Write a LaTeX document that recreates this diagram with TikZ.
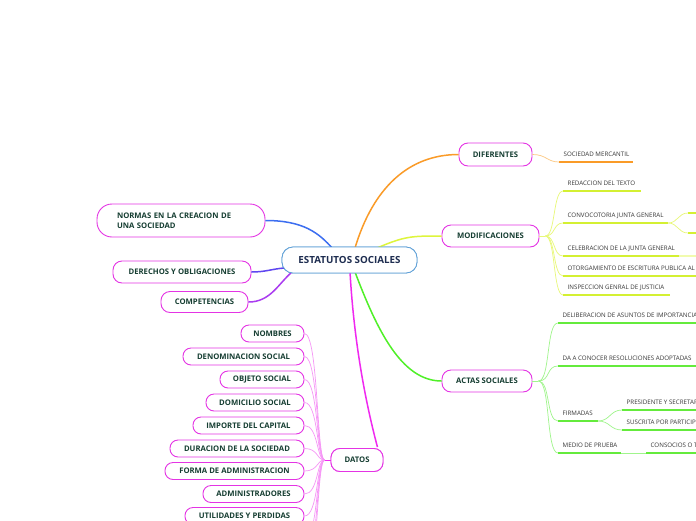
\documentclass[tikz,border=0pt]{standalone}
\usepackage{fontspec}
\setmainfont{Open Sans}
\usetikzlibrary{calc}
\definecolor{mag}{RGB}{228,52,228}
\definecolor{cblue}{RGB}{95,160,215}
\definecolor{dkg}{RGB}{22,62,50}
\definecolor{navy}{RGB}{30,45,80}
\definecolor{leaftxt}{RGB}{55,55,55}
\definecolor{cNorm}{RGB}{60,110,240}
\definecolor{cDer}{RGB}{95,70,240}
\definecolor{cComp}{RGB}{170,60,240}
\definecolor{cOra}{RGB}{250,155,40}
\definecolor{cOraL}{RGB}{252,200,130}
\definecolor{cYel}{RGB}{222,245,60}
\definecolor{cYelU}{RGB}{212,240,50}
\definecolor{cYelL}{RGB}{232,248,120}
\definecolor{cGrn}{RGB}{80,240,40}
\definecolor{cGrnU}{RGB}{100,235,60}
\definecolor{cGrnL}{RGB}{160,245,140}
\definecolor{cMag}{RGB}{240,40,240}
\definecolor{cMagL}{RGB}{246,150,246}
\tikzset{
  cnode/.style={draw=cblue, line width=0.8pt, rounded corners=11pt, fill=white, inner sep=0pt,
    font=\fontsize{9.8}{11}\selectfont\bfseries, text=navy},
  mnode/.style={draw=mag, line width=0.9pt, rounded corners=9pt, fill=white, inner sep=0pt,
    font=\fontsize{7.7}{10.5}\selectfont\bfseries, text=dkg},
  dnode/.style={mnode, minimum height=17pt, rounded corners=8pt},
  leaftext/.style={font=\fontsize{6.2}{7}\selectfont, text=leaftxt, inner sep=0pt, anchor=base west},
  maincon/.style={line width=1.5pt},
  subcon/.style={line width=0.7pt},
  uline/.style={line width=2pt},
}
\newcommand{\leafitem}[6]{%
  \coordinate (#1) at (#2,#3);
  \coordinate (#1e) at (#2+#4,#3);
  \draw[uline, #6] (#1) -- (#1e);
  \node[leaftext] (#1t) at (#2+4.5,#3-5.5) {#5};
}
\begin{document}
\begin{tikzpicture}[x=1pt,y=-1pt]
\useasboundingbox (0,0) rectangle (696,520);
\clip (0,0) rectangle (696,520);
\fill[white] (0,0) rectangle (696,520);

\coordinate (cN) at (333,249);
\coordinate (cO) at (355,248);
\coordinate (cY) at (377,248);
\coordinate (cG) at (355,272);
\coordinate (cM) at (350,272);
\coordinate (cD) at (284,268);
\coordinate (cC) at (292,272);

% ---------- nodes
\node[cnode, minimum width=135pt, minimum height=26pt] (cen) at (349.5,260) {ESTATUTOS SOCIALES};

\node[mnode, minimum height=33pt, rounded corners=15pt, align=left, text width=128pt, inner xsep=20pt] (normas) at (181,220.5) {NORMAS EN LA CREACION DE\\UNA SOCIEDAD};
\node[mnode, minimum width=138pt, minimum height=22pt] (derechos) at (182,272) {DERECHOS Y OBLIGACIONES};
\node[mnode, minimum width=87pt, minimum height=21pt] (compet) at (204.5,302) {COMPETENCIAS};
\node[mnode, minimum width=73pt, minimum height=23pt] (dif) at (495.5,154.5) {DIFERENTES};
\node[mnode, minimum width=97pt, minimum height=22pt] (modif) at (490.5,236) {MODIFICACIONES};
\node[mnode, minimum width=90pt, minimum height=22pt] (actas) at (487,381) {ACTAS SOCIALES};
\node[mnode, minimum width=52pt, minimum height=23pt] (datos) at (357,460) {DATOS};

\node[dnode, minimum width=63pt] (nombres) at (272.5,333.5) {NOMBRES};
\node[dnode, minimum width=121pt] (denom) at (243.5,356.5) {DENOMINACION SOCIAL};
\node[dnode, minimum width=84pt] (objeto) at (262,379.5) {OBJETO SOCIAL};
\node[dnode, minimum width=98pt] (domic) at (255,402.5) {DOMICILIO SOCIAL};
\node[dnode, minimum width=111pt] (importe) at (248.5,425.5) {IMPORTE DEL CAPITAL};
\node[dnode, minimum width=134pt] (durac) at (237,448.5) {DURACION DE LA SOCIEDAD};
\node[dnode, minimum width=139pt] (forma) at (234.5,471) {FORMA DE ADMINISTRACION};
\node[dnode, minimum width=101pt] (admin) at (253.5,494) {ADMINISTRADORES};
\node[dnode, minimum width=119pt] (utilid) at (244.5,516) {UTILIDADES Y PERDIDAS};

% ---------- main connectors
\draw[maincon, cNorm] (normas.east) .. controls +(38,0) and +(-14,-16) .. (cN);
\draw[maincon, cDer] (derechos.east) .. controls +(14,0) and +(-12,1) .. (cD);
\draw[maincon, cComp] (compet.east) .. controls +(22,0) and +(-14,12) .. (cC);
\draw[maincon, cOra] (cO) .. controls +(18,-60) and +(-50,0) .. (dif.west);
\draw[maincon, cYel] (cY) .. controls +(28,-12) and +(-30,0) .. (modif.west);
\draw[maincon, cGrn] (cG) .. controls +(22,58) and +(-40,0) .. (actas.west);
\draw[maincon, cMag] (cM) .. controls +(4,70) and +(-12,-45) .. ($(datos.north east)+(-6,-1)$);
% redraw nodes over connector ends
\node[cnode, minimum width=135pt, minimum height=26pt] at (cen) {ESTATUTOS SOCIALES};
\node[mnode, minimum width=52pt, minimum height=23pt] at (datos) {DATOS};

% ---------- DIFERENTES leaves
\leafitem{sm}{559}{162}{74}{SOCIEDAD MERCANTIL}{cOra}
\draw[subcon, cOraL] (dif.east) .. controls +(14,0) and +(-12,0) .. (sm);

% ---------- MODIFICACIONES leaves
\coordinate (mj) at ($(modif.east)+(6,0)$);
\draw[subcon, cYelL] (modif.east) -- (mj);
\leafitem{red}{563}{191}{78}{REDACCION DEL TEXTO}{cYelU}
\leafitem{conv}{563}{223}{105}{CONVOCOTORIA JUNTA GENERAL}{cYelU}
\leafitem{celeb}{563}{256}{116}{CELEBRACION DE LA JUNTA GENERAL}{cYelU}
\leafitem{otorg}{563}{276}{140}{OTORGAMIENTO DE ESCRITURA PUBLICA AL}{cYelU}
\leafitem{insp}{563}{295}{107}{INSPECCION GENRAL DE JUSTICIA}{cYelU}
\foreach \n in {red,conv,celeb,otorg,insp}{
  \draw[subcon, cYelL] (mj) .. controls +(10,0) and +(-10,0) .. (\n);
}
\coordinate (cb1) at (688,213);
\coordinate (cb2) at (688,233);
\draw[subcon, cYelL] (conve) .. controls +(10,0) and +(-10,0) .. (cb1);
\draw[subcon, cYelL] (conve) .. controls +(10,0) and +(-10,0) .. (cb2);
\draw[uline, cYelU] (cb1) -- ++(20,0);
\draw[uline, cYelU] (cb2) -- ++(20,0);
\draw[uline, cYelL!60] (celebe) -- ++(25,0);

% ---------- ACTAS leaves
\coordinate (aj) at ($(actas.east)+(6,0)$);
\draw[subcon, cGrnL] (actas.east) -- (aj);
\leafitem{delib}{558}{323}{145}{DELIBERACION DE ASUNTOS DE IMPORTANCIA}{cGrnU}
\leafitem{daa}{558}{366}{145}{DA A CONOCER RESOLUCIONES ADOPTADAS}{cGrnU}
\leafitem{firm}{558}{421}{40}{FIRMADAS}{cGrnU}
\leafitem{medio}{558}{453}{63}{MEDIO DE PRUEBA}{cGrnU}
\foreach \n in {delib,daa,firm,medio}{
  \draw[subcon, cGrnL] (aj) .. controls +(12,0) and +(-12,0) .. (\n);
}
\leafitem{pres}{622}{410}{85}{PRESIDENTE Y SECRETAR}{cGrnU}
\leafitem{susc}{622}{430}{85}{SUSCRITA POR PARTICIPE}{cGrnU}
\draw[subcon, cGrnL] (firme) .. controls +(12,0) and +(-12,0) .. (pres);
\draw[subcon, cGrnL] (firme) .. controls +(12,0) and +(-12,0) .. (susc);
\leafitem{cons}{646}{453}{60}{CONSOCIOS O T}{cGrnU}
\draw[subcon, cGrnL] (medioe) -- (cons);

% ---------- DATOS children
\coordinate (dj) at ($(datos.west)+(-6,0)$);
\draw[subcon, cMag] (datos.west) -- (dj);
\coordinate (o1) at (304,541);
\coordinate (o2) at (304,564);
\coordinate (o3) at (304,587);
\foreach \n in {nombres.east,denom.east,objeto.east,domic.east,importe.east,durac.east,forma.east,admin.east,utilid.east,o1,o2,o3}{
  \draw[subcon, cMagL] (\n) .. controls +(14,0) and +(-8,0) .. (dj);
}
\end{tikzpicture}
\end{document}
